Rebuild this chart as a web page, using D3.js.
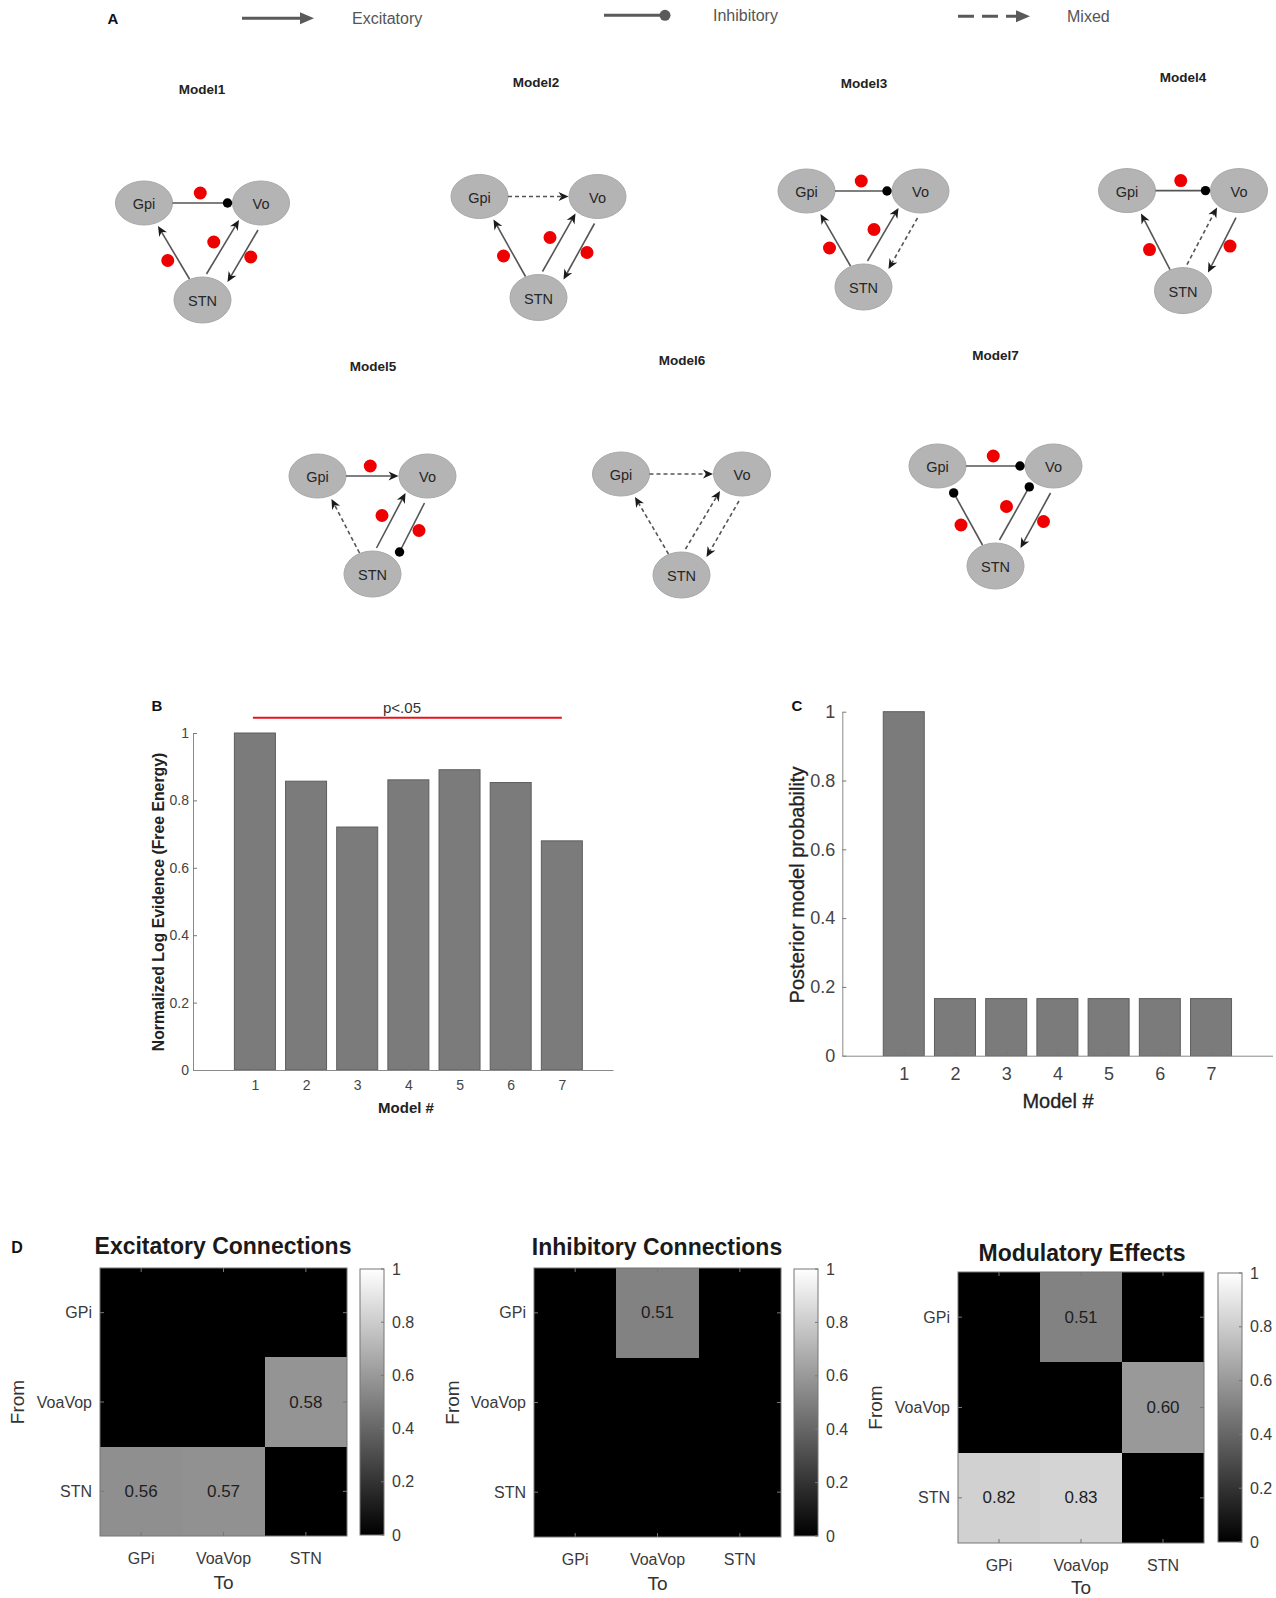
<!DOCTYPE html>
<html><head><meta charset="utf-8">
<script src="https://cdn.jsdelivr.net/npm/d3@7"></script>
<style>
body{margin:0;background:#fff}
svg{display:block;font-family:"Liberation Sans",Arial,sans-serif}
</style>
</head><body>
<svg id="fig" width="1276" height="1598"></svg>
<script>
// ---------------- DATA ----------------
const modelNames = ["Model1","Model2","Model3","Model4","Model5","Model6","Model7"];
const nodeNames = ["Gpi","Vo","STN"];
const connectionKeys = ["GV","SG","SV","VS"]; // Gpi->Vo, STN->Gpi, STN->Vo, Vo->STN
const connectionTypes = [
  ["inh","exc","exc","exc"],
  ["mix","exc","exc","exc"],
  ["inh","exc","exc","mix"],
  ["inh","exc","mix","exc"],
  ["exc","mix","exc","inh"],
  ["mix","mix","mix","mix"],
  ["inh","inh","inh","exc"]
];
const modulated = [
  [1,1,1,1],
  [0,1,1,1],
  [1,1,1,0],
  [1,1,0,1],
  [1,0,1,1],
  [0,0,0,0],
  [1,1,1,1]
];
const legendLabels = ["Excitatory","Inhibitory","Mixed"];

const modelNumbers = [1,2,3,4,5,6,7];
const logEvidence = [1.0, 0.857, 0.721, 0.861, 0.891, 0.853, 0.680];
const posteriorProb = [1.0, 0.166, 0.166, 0.166, 0.166, 0.166, 0.166];
const yTicks = [0, 0.2, 0.4, 0.6, 0.8, 1];
const sigLabel = "p<.05";

const regions = ["GPi","VoaVop","STN"];
const excitatory = [[0,0,0],[0,0,0.58],[0.56,0.57,0]];
const inhibitory = [[0,0.51,0],[0,0,0],[0,0,0]];
const modulatory = [[0,0.51,0],[0,0,0.60],[0.82,0.83,0]];
const heatTitles = ["Excitatory Connections","Inhibitory Connections","Modulatory Effects"];
const cbTicks = [0, 0.2, 0.4, 0.6, 0.8, 1];

// ---------------- LAYOUT ----------------
const svg = d3.select("#fig");
svg.append("rect").attr("width",1276).attr("height",1598).attr("fill","#fff");

const tickFmt = d => d===0 ? "0" : d===1 ? "1" : String(d);

// ===== Panel A =====
function arrowHead(g, tip, u, len, half, notch, color){
  const px=-u[1], py=u[0];
  const pts = [
    tip,
    [tip[0]-u[0]*len+px*half, tip[1]-u[1]*len+py*half],
    [tip[0]-u[0]*notch, tip[1]-u[1]*notch],
    [tip[0]-u[0]*len-px*half, tip[1]-u[1]*len-py*half]
  ];
  g.append("path").attr("d","M"+pts.map(p=>p.join(",")).join("L")+"Z").attr("fill",color);
}

svg.append("text").attr("x",113).attr("y",18.5).attr("text-anchor","middle").attr("dominant-baseline","central")
  .attr("font-weight","bold").attr("font-size",15).attr("fill","#111").text("A");

const legendLayout = [
  {x0:242, x1:314, y:18.3, tx:352, ty:18.3},
  {x0:604, x1:670, y:15.3, tx:713, ty:15.3},
  {x0:958, x1:1030, y:16.3, tx:1067, ty:16.3}
];
const legendTypes = ["exc","inh","mix"];
legendTypes.forEach((t,i)=>{
  const L = legendLayout[i];
  const g = svg.append("g");
  const col = "#5a5a5a";
  if(t==="inh"){
    g.append("line").attr("x1",L.x0).attr("x2",L.x1-5).attr("y1",L.y).attr("y2",L.y).attr("stroke",col).attr("stroke-width",3);
    g.append("circle").attr("cx",L.x1-5).attr("cy",L.y).attr("r",5.5).attr("fill",col);
  } else {
    const ln = g.append("line").attr("x1",L.x0).attr("x2",L.x1-12).attr("y1",L.y).attr("y2",L.y).attr("stroke",col).attr("stroke-width",3);
    if(t==="mix") ln.attr("stroke-dasharray","16,8");
    arrowHead(g,[L.x1,L.y],[1,0],14,6,14,col);
  }
  svg.append("text").attr("x",L.tx).attr("y",L.ty).attr("dominant-baseline","central")
    .attr("font-size",16).attr("fill","#555").text(legendLabels[i]);
});

const modelLayout = [
  {cx:202.5, cy:203, hw:58.5, dy:97,  tx:202, ty:89.5},
  {cx:538.5, cy:196.5, hw:59, dy:101, tx:536, ty:82.5},
  {cx:863.5, cy:191, hw:57, dy:96,   tx:864, ty:83.5},
  {cx:1183, cy:190.6, hw:56, dy:100, tx:1183, ty:77.5},
  {cx:372.5, cy:476, hw:55, dy:98,   tx:373, ty:366.5},
  {cx:681.5, cy:474, hw:60.5, dy:101, tx:682, ty:360},
  {cx:995.5, cy:466, hw:58, dy:100,  tx:995.5, ty:355}
];
const dotOffset = {GV:[-2,-10], SG:[-6,8], SV:[-9,-5], VS:[8,1]};

function endpoints(key,G,V,S){
  switch(key){
    case "GV": return [[G[0]+28.5,G[1]],[V[0]-29,V[1]]];
    case "SG": return [[S[0]-13,S[1]-21],[G[0]+14,G[1]+23]];
    case "SV": return [[S[0]+4,S[1]-26],[V[0]-22,V[1]+17]];
    case "VS": return [[V[0]-3,V[1]+27],[S[0]+25,S[1]-18]];
  }
}

modelNames.forEach((name,mi)=>{
  const L = modelLayout[mi];
  const g = svg.append("g");
  const G=[L.cx-L.hw,L.cy], V=[L.cx+L.hw,L.cy], S=[L.cx,L.cy+L.dy];
  g.append("text").attr("x",L.tx).attr("y",L.ty).attr("text-anchor","middle").attr("dominant-baseline","central")
    .attr("font-weight","bold").attr("font-size",13.5).attr("fill","#222").text(name);
  [G,V,S].forEach((p,ni)=>{
    g.append("ellipse").attr("cx",p[0]).attr("cy",p[1]).attr("rx",28.5).attr("ry",ni===2?23:22)
      .attr("fill","#b4b4b4").attr("stroke","#a8a8a8").attr("stroke-width",1);
    g.append("text").attr("x",p[0]).attr("y",p[1]+1).attr("text-anchor","middle").attr("dominant-baseline","central")
      .attr("font-size",14.5).attr("fill","#262626").text(nodeNames[ni]);
  });
  connectionKeys.forEach((key,ci)=>{
    const type = connectionTypes[mi][ci];
    const [a,b] = endpoints(key,G,V,S);
    const dx=b[0]-a[0], dy=b[1]-a[1], len=Math.hypot(dx,dy);
    const u=[dx/len,dy/len];
    if(type==="inh"){
      const c=[b[0]-u[0]*4.5,b[1]-u[1]*4.5];
      g.append("line").attr("x1",a[0]).attr("y1",a[1]).attr("x2",c[0]).attr("y2",c[1]).attr("stroke","#555").attr("stroke-width",1.6);
      g.append("circle").attr("cx",c[0]).attr("cy",c[1]).attr("r",4.7).attr("fill","#000");
    } else {
      const e=[b[0]-u[0]*6,b[1]-u[1]*6];
      const ln=g.append("line").attr("x1",a[0]).attr("y1",a[1]).attr("x2",e[0]).attr("y2",e[1]).attr("stroke","#555").attr("stroke-width",1.6);
      if(type==="mix") ln.attr("stroke-dasharray","4,3");
      arrowHead(g,b,u,10,4.5,7,"#1a1a1a");
    }
    if(modulated[mi][ci]){
      const m=[(a[0]+b[0])/2+dotOffset[key][0],(a[1]+b[1])/2+dotOffset[key][1]];
      g.append("circle").attr("cx",m[0]).attr("cy",m[1]).attr("r",6.5).attr("fill","#ee0000");
    }
  });
});

// ===== Panels B and C =====
function barChart(o){
  const g = svg.append("g");
  const y = d3.scaleLinear().domain([0,1]).range([o.y0,o.y1]);
  const x = d3.scaleLinear().domain(o.xdom).range([o.x0,o.x1]);
  g.selectAll("rect.bar").data(o.values).join("rect").attr("class","bar")
    .attr("x",(d,i)=>x(modelNumbers[i])-20.5).attr("width",41)
    .attr("y",d=>y(d)).attr("height",d=>y(0)-y(d))
    .attr("fill","#7b7b7b").attr("stroke","#5e5e5e").attr("stroke-width",1);
  const ya = g.append("g").attr("transform",`translate(${o.x0},0)`)
    .call(d3.axisLeft(y).tickValues(yTicks).tickFormat(tickFmt).tickSizeInner(-4).tickSizeOuter(0).tickPadding(o.ypad));
  const xa = g.append("g").attr("transform",`translate(0,${o.y0})`)
    .call(d3.axisBottom(x).tickValues(modelNumbers).tickSizeInner(-4).tickSizeOuter(0).tickPadding(o.xpad));
  [ya,xa].forEach(a=>{
    a.select(".domain").attr("stroke","#8a8a8a");
    a.selectAll(".tick line").attr("stroke","#777");
    a.selectAll("text").attr("font-size",o.fs).attr("fill","#444").attr("font-family","Liberation Sans, Arial, sans-serif");
  });
  return {x,y,g};
}

const B = barChart({values:logEvidence, x0:193, x1:613, xdom:[-0.21,8], y0:1070, y1:733, ypad:4, xpad:10, fs:14});
svg.append("line").attr("x1",B.x(1)-2).attr("x2",B.x(7)).attr("y1",717.7).attr("y2",717.7).attr("stroke","#e8141c").attr("stroke-width",2);
svg.append("text").attr("x",402).attr("y",707).attr("text-anchor","middle").attr("dominant-baseline","central")
  .attr("font-size",15).attr("fill","#333").text(sigLabel);
svg.append("text").attr("x",157).attr("y",705).attr("text-anchor","middle").attr("dominant-baseline","central")
  .attr("font-weight","bold").attr("font-size",15).attr("fill","#111").text("B");
svg.append("text").attr("transform","translate(158,902) rotate(-90)").attr("text-anchor","middle").attr("dominant-baseline","central")
  .attr("font-weight","bold").attr("font-size",15.8).attr("fill","#222").text("Normalized Log Evidence (Free Energy)");
svg.append("text").attr("x",406).attr("y",1107).attr("text-anchor","middle").attr("dominant-baseline","central")
  .attr("font-weight","bold").attr("font-size",15).attr("fill","#222").text("Model #");

const C = barChart({values:posteriorProb, x0:842.3, x1:1272.5, xdom:[-0.2,8.2], y0:1055.7, y1:711.7, ypad:7, xpad:12, fs:18});
svg.append("text").attr("x",797).attr("y",705).attr("text-anchor","middle").attr("dominant-baseline","central")
  .attr("font-weight","bold").attr("font-size",15).attr("fill","#111").text("C");
svg.append("text").attr("transform","translate(797,885) rotate(-90)").attr("text-anchor","middle").attr("dominant-baseline","central")
  .attr("font-size",20).attr("fill","#222").attr("stroke","#222").attr("stroke-width",0.3).text("Posterior model probability");
svg.append("text").attr("x",1058).attr("y",1101).attr("text-anchor","middle").attr("dominant-baseline","central")
  .attr("font-size",20).attr("fill","#222").attr("stroke","#222").attr("stroke-width",0.3).text("Model #");

// ===== Panel D =====
svg.append("text").attr("x",17).attr("y",1247).attr("text-anchor","middle").attr("dominant-baseline","central")
  .attr("font-weight","bold").attr("font-size",16).attr("fill","#111").text("D");

const heatData = [excitatory, inhibitory, modulatory];
const heatLayout = [
  {x:100, y:1268, w:247, h:268, cbx:360, cby:1269, cbh:266, tx:223, ty:1246, fromX:17, toDy:46},
  {x:534, y:1268, w:247, h:269, cbx:794, cby:1269, cbh:267, tx:657, ty:1247, fromX:452, toDy:46},
  {x:958, y:1272, w:246, h:271, cbx:1218, cby:1273, cbh:269, tx:1082, ty:1253, fromX:875, toDy:44}
];
const gray = d3.scaleLinear().domain([0,1]).range(["#000000","#ffffff"]);
const defs = svg.append("defs");
const grad = defs.append("linearGradient").attr("id","cbgrad").attr("x1",0).attr("x2",0).attr("y1",1).attr("y2",0);
grad.append("stop").attr("offset","0%").attr("stop-color","#000");
grad.append("stop").attr("offset","100%").attr("stop-color","#fff");

heatData.forEach((mat,hi)=>{
  const L = heatLayout[hi];
  const g = svg.append("g");
  const xb = d3.scaleBand().domain(regions).range([L.x,L.x+L.w]);
  const yb = d3.scaleBand().domain(regions).range([L.y,L.y+L.h]);
  const cells = [];
  mat.forEach((row,ri)=>row.forEach((v,ci)=>cells.push({from:regions[ri],to:regions[ci],v})));
  g.append("rect").attr("x",L.x).attr("y",L.y).attr("width",L.w).attr("height",L.h).attr("fill","#000");
  g.selectAll("rect.cell").data(cells).join("rect").attr("class","cell")
    .attr("x",d=>xb(d.to)).attr("y",d=>yb(d.from)).attr("width",xb.bandwidth()).attr("height",yb.bandwidth())
    .attr("shape-rendering","crispEdges")
    .attr("fill",d=>gray(d.v));
  g.selectAll("text.val").data(cells.filter(d=>d.v>0)).join("text").attr("class","val")
    .attr("x",d=>xb(d.to)+xb.bandwidth()/2).attr("y",d=>yb(d.from)+yb.bandwidth()/2)
    .attr("text-anchor","middle").attr("dominant-baseline","central")
    .attr("font-size",17).attr("fill","#1e1e1e").text(d=>d3.format(".2f")(d.v));
  g.append("rect").attr("x",L.x).attr("y",L.y).attr("width",L.w).attr("height",L.h)
    .attr("fill","none").attr("stroke","#777").attr("stroke-width",1);
  regions.forEach(r=>{
    const cx=xb(r)+xb.bandwidth()/2, cy=yb(r)+yb.bandwidth()/2;
    [[cx,L.y+L.h,cx,L.y+L.h-4],[cx,L.y,cx,L.y+4],[L.x,cy,L.x+4,cy],[L.x+L.w,cy,L.x+L.w-4,cy]].forEach(t=>{
      g.append("line").attr("x1",t[0]).attr("y1",t[1]).attr("x2",t[2]).attr("y2",t[3]).attr("stroke","#777");
    });
    g.append("text").attr("x",L.x-8).attr("y",cy).attr("text-anchor","end").attr("dominant-baseline","central")
      .attr("font-size",16).attr("fill","#3a3a3a").text(r);
    g.append("text").attr("x",cx).attr("y",L.y+L.h+22).attr("text-anchor","middle").attr("dominant-baseline","central")
      .attr("font-size",16).attr("fill","#3a3a3a").text(r);
  });
  g.append("text").attr("x",L.x+L.w/2).attr("y",L.y+L.h+L.toDy).attr("text-anchor","middle").attr("dominant-baseline","central")
    .attr("font-size",19).attr("fill","#333").text("To");
  g.append("text").attr("transform",`translate(${L.fromX},${L.y+L.h/2}) rotate(-90)`).attr("text-anchor","middle").attr("dominant-baseline","central")
    .attr("font-size",19).attr("fill","#333").text("From");
  g.append("text").attr("x",L.tx).attr("y",L.ty).attr("text-anchor","middle").attr("dominant-baseline","central")
    .attr("font-weight","bold").attr("font-size",23).attr("fill","#1a1a1a").text(heatTitles[hi]);
  // colorbar
  const cs = d3.scaleLinear().domain([0,1]).range([L.cby+L.cbh,L.cby]);
  g.append("rect").attr("x",L.cbx).attr("y",L.cby).attr("width",24).attr("height",L.cbh)
    .attr("fill","url(#cbgrad)").attr("stroke","#777").attr("stroke-width",1);
  cbTicks.forEach(t=>{
    g.append("line").attr("x1",L.cbx+24).attr("x2",L.cbx+21).attr("y1",cs(t)).attr("y2",cs(t)).attr("stroke","#777");
    g.append("text").attr("x",L.cbx+32).attr("y",cs(t)).attr("dominant-baseline","central")
      .attr("font-size",16).attr("fill","#3a3a3a").text(tickFmt(t));
  });
});
</script>
</body></html>
